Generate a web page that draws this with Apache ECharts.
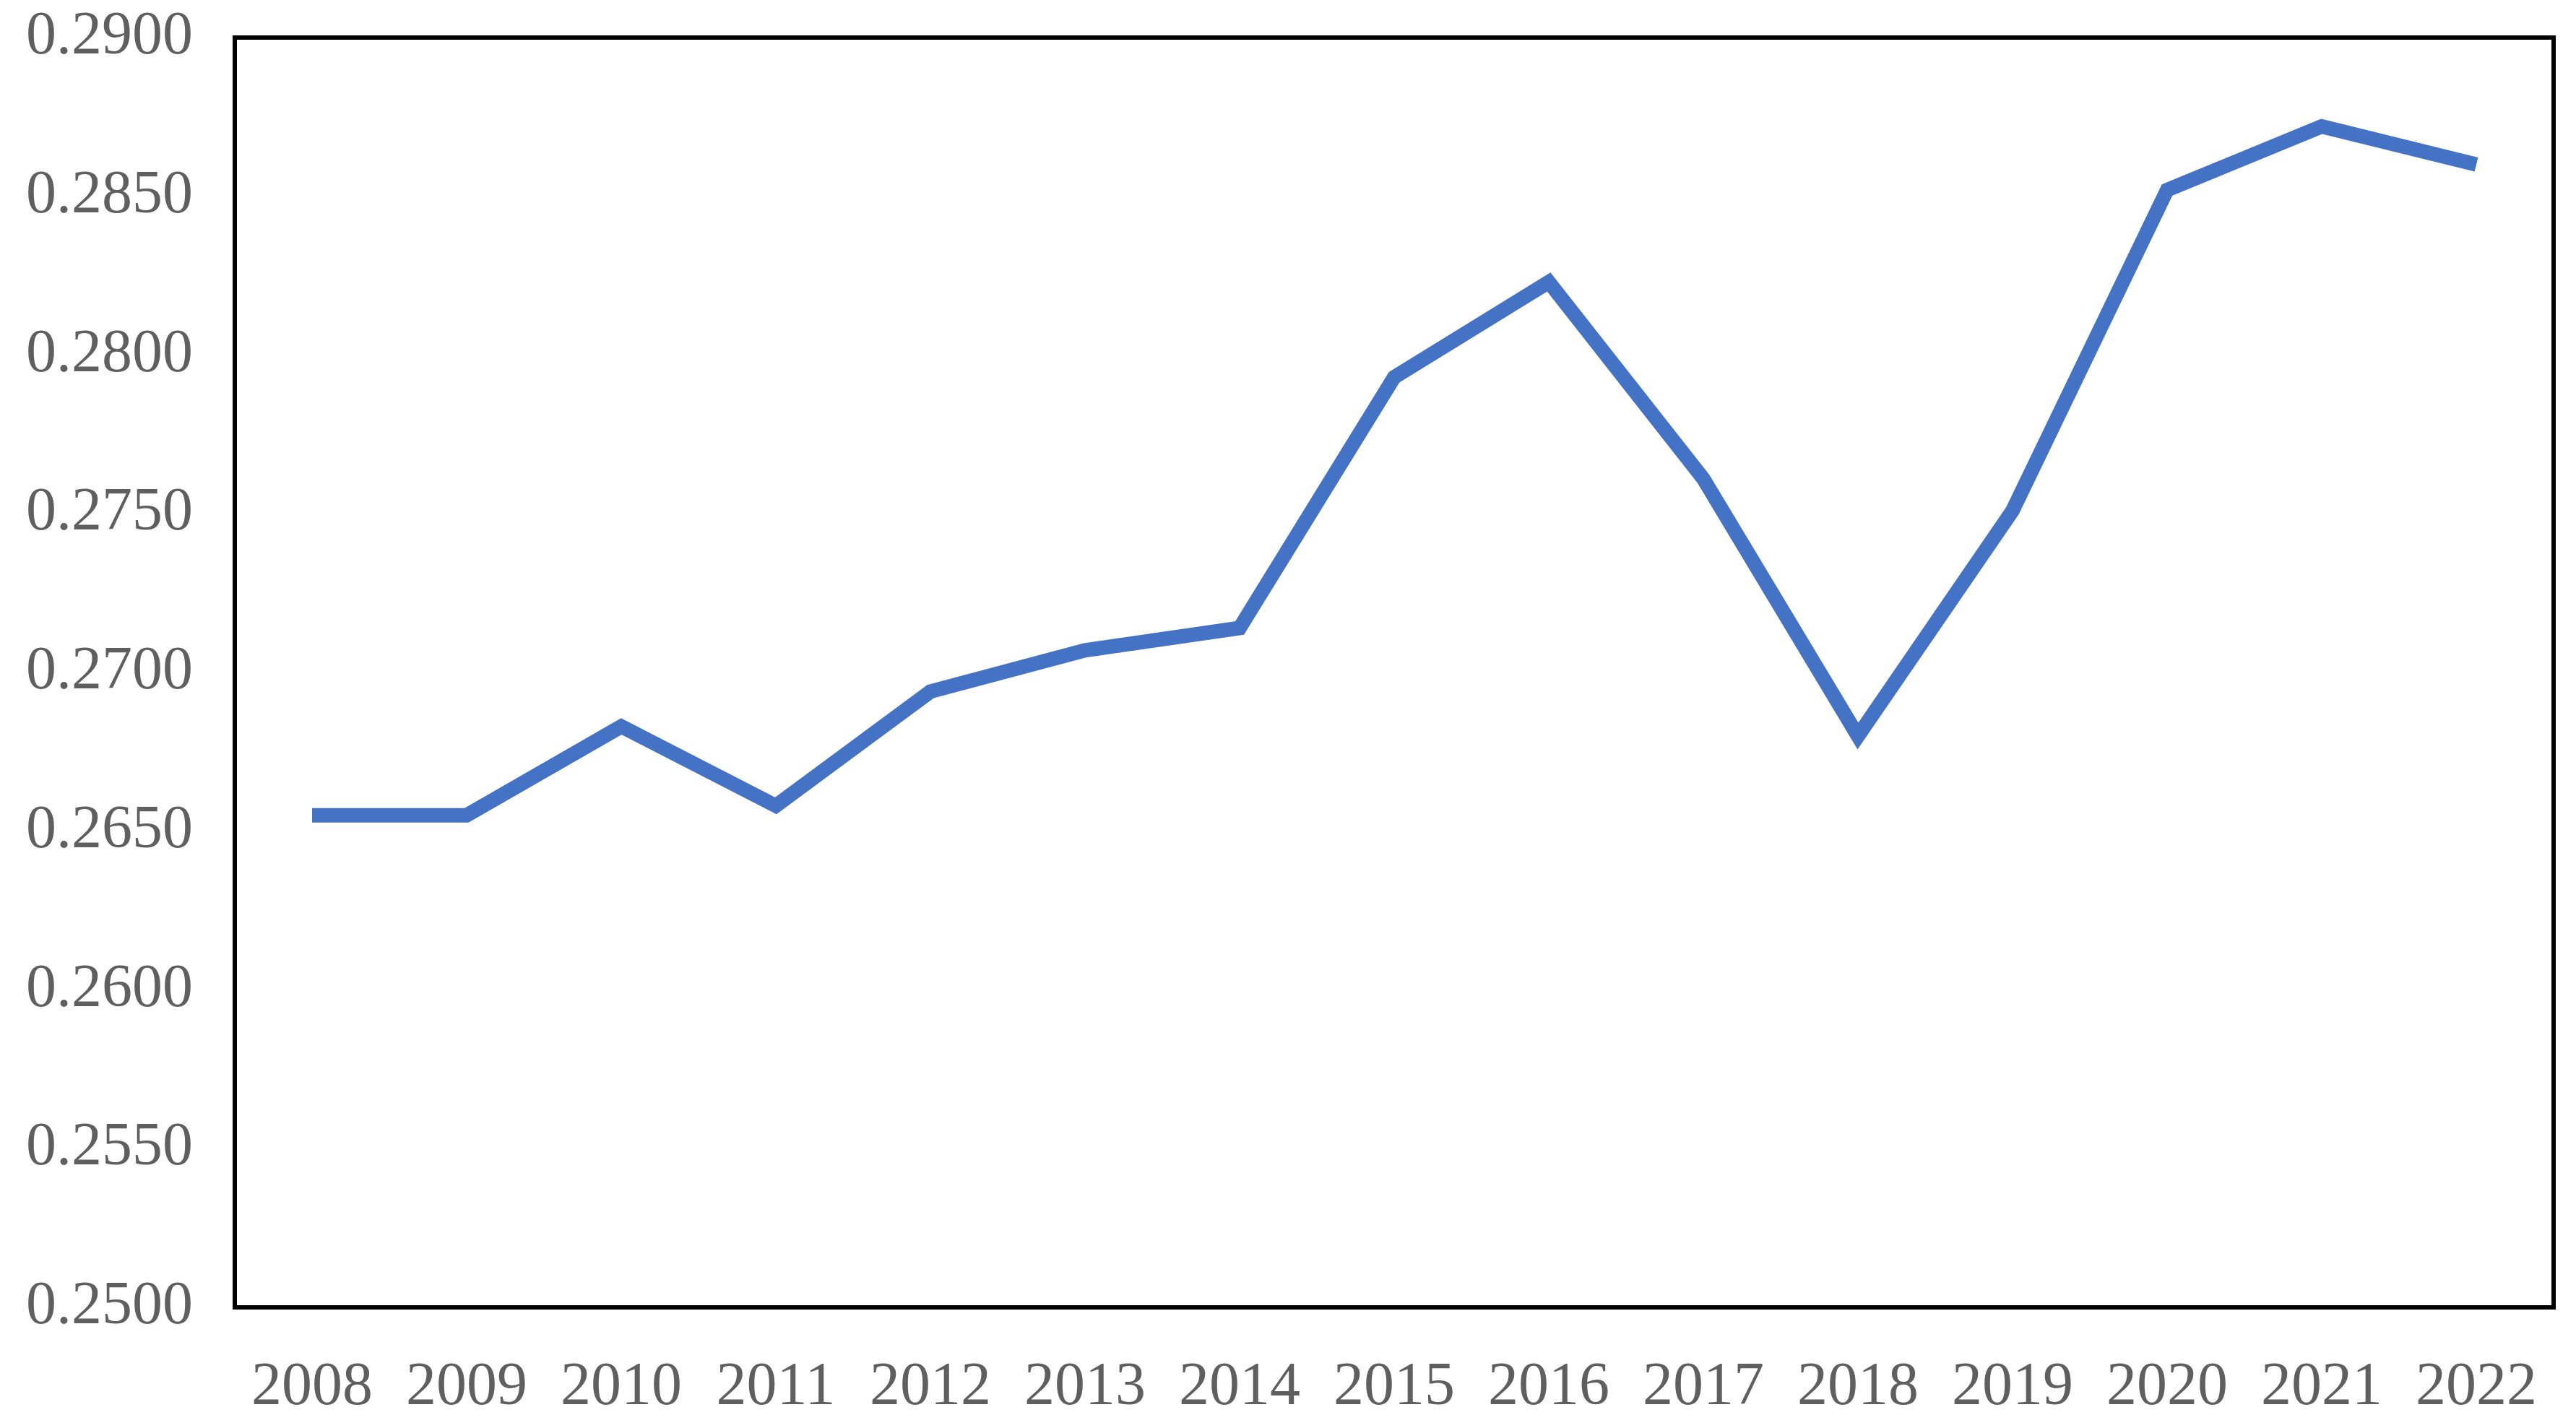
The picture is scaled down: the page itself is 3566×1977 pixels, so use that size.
<!DOCTYPE html>
<html>
<head>
<meta charset="utf-8">
<script src="https://cdn.jsdelivr.net/npm/echarts@6/dist/echarts.min.js"></script>
<style>
html,body{margin:0;padding:0;background:#fff;}
#chart{width:3566px;height:1977px;}
</style>
</head>
<body>
<div id="chart"></div>
<script>
const years = ['2008','2009','2010','2011','2012','2013','2014','2015','2016','2017','2018','2019','2020','2021','2022'];
const values = [0.2655,0.2655,0.2683,0.2658,0.2694,0.2707,0.2714,0.2793,0.2823,0.2761,0.2680,0.2751,0.2852,0.2872,0.2860];
const yMin = 0.25, yMax = 0.29, yStep = 0.005;

const chart = echarts.init(document.getElementById('chart'));
chart.setOption({
  animation: false,
  backgroundColor: '#ffffff',
  grid: {
    left: 325, right: 31, top: 52, bottom: 167,
    show: true, borderColor: '#000000', borderWidth: 6, backgroundColor: 'transparent'
  },
  xAxis: {
    type: 'category',
    data: years,
    boundaryGap: true,
    axisLine: { show: false },
    axisTick: { show: false },
    axisLabel: { color: '#5f5f5f', fontFamily: 'Liberation Serif', fontSize: 84, margin: 70, interval: 0 },
    splitLine: { show: false }
  },
  yAxis: {
    type: 'value',
    min: yMin, max: yMax, interval: yStep,
    axisLine: { show: false },
    axisTick: { show: false },
    splitLine: { show: false },
    axisLabel: {
      color: '#5f5f5f', fontFamily: 'Liberation Serif', fontSize: 84, margin: 58,
      formatter: v => v.toFixed(4)
    }
  },
  series: [{
    type: 'line',
    data: values,
    showSymbol: false,
    symbol: 'none',
    lineStyle: { color: '#4472C4', width: 20, join: 'miter', cap: 'butt' },
    itemStyle: { color: '#4472C4' }
  }]
});
</script>
</body>
</html>
